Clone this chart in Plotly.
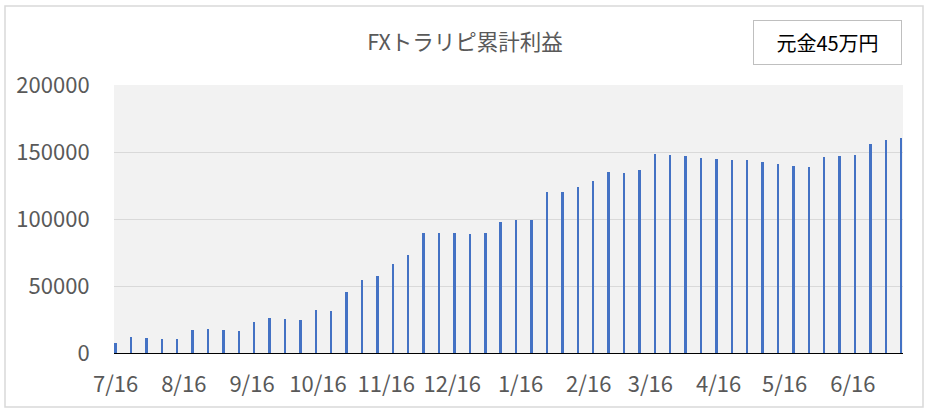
import pandas as pd
import plotly.graph_objects as go

# weekly cumulative profit (yen)
start_date = '2018-07-16'
profit = [7700, 12200, 11400, 10700, 10700, 17400, 18200, 17400, 16700, 23400,
          26400, 25600, 24900, 32300, 31600, 45800, 54700, 57700, 66700, 73400,
          89800, 89800, 89800, 89100, 89800, 98000, 99500, 99500, 120400, 120400,
          124200, 128600, 135400, 134600, 136800, 148800, 148000, 147300, 145800, 145100,
          144300, 144300, 142800, 141300, 139800, 139100, 146500, 147300, 148000, 156300,
          159200, 160700]
y_ticks = [0, 50000, 100000, 150000, 200000]

title_text = 'FXトラリピ累計利益'
note_text = '元金45万円'

dates = pd.date_range(start_date, periods=len(profit), freq='7D')
day_ms = 86400000

font_jp = 'Noto Sans CJK JP'
grey_text = '#595959'

fig = go.Figure()
fig.add_trace(go.Bar(x=dates, y=profit, width=1.1 * day_ms,
                     marker=dict(color='#4472C4', line=dict(width=0))))

fig.update_layout(
    width=930, height=416,
    margin=dict(l=114, r=27, t=85, b=63),
    paper_bgcolor='white', plot_bgcolor='#F2F2F2',
    showlegend=False,
    font=dict(family=font_jp, color=grey_text),
    title=dict(text=title_text, x=0.5, xanchor='center', y=1 - 42 / 416, yanchor='middle',
               font=dict(size=21.5, color=grey_text, family=font_jp)),
    bargap=0,
)

fig.update_xaxes(
    type='date',
    range=[dates[0] - pd.Timedelta(hours=17), dates[-1] + pd.Timedelta(hours=19)],
    tick0=start_date, dtick='M1', tickformat='%-m/%d',
    showgrid=False, showline=True, linecolor='black', linewidth=1.3,
    ticks='outside', ticklen=11, tickcolor='rgba(0,0,0,0)',
    tickfont=dict(size=22, color=grey_text, family=font_jp),
)
fig.update_yaxes(
    range=[0, 200000], tickvals=y_ticks, tickformat='d',
    showgrid=True, gridcolor='#D9D9D9', gridwidth=1, zeroline=False,
    ticks='outside', ticklen=19, tickcolor='rgba(0,0,0,0)',
    tickfont=dict(size=22, color=grey_text, family=font_jp),
)

# outer chart border
fig.add_shape(type='rect', xref='paper', yref='paper',
              x0=(5 - 114) / 789, x1=(923 - 114) / 789,
              y0=(353 - 407) / 268, y1=(353 - 6) / 268,
              line=dict(color='#D9D9D9', width=1.5), layer='below')

# principal note box
fig.add_annotation(text=note_text, xref='paper', yref='paper',
                   x=(827.5 - 114) / 789, y=(353 - 42.5) / 268,
                   xanchor='center', yanchor='middle', showarrow=False,
                   width=143, height=39, borderpad=2, borderwidth=1,
                   bordercolor='#BFBFBF', bgcolor='white',
                   font=dict(size=20, color='black', family=font_jp))

# page body has a default margin; drop it so the figure sits at the window corner
fig.write_html('out.html', config={'displayModeBar': False},
               post_script="document.body.style.margin='0';")
